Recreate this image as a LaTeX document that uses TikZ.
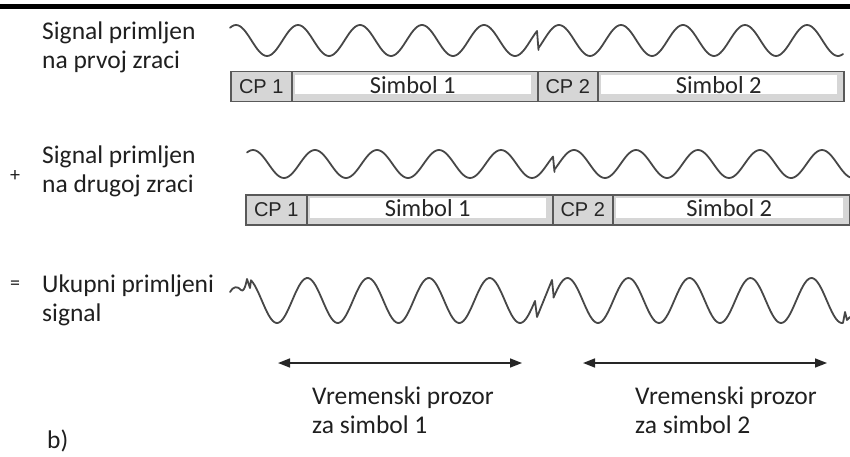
\documentclass[tikz,border=0pt]{standalone}
\usepackage{fontspec}
\setmainfont{Carlito}
\newfontfamily\arialf{Liberation Sans}
\usetikzlibrary{arrows.meta}
\tikzset{
  lbl/.style={anchor=west, align=left, font=\fontsize{25.5}{29}\selectfont, text=black!88, inner sep=0pt},
  sign/.style={font=\fontsize{20}{20}\selectfont, text=black!88, inner sep=0pt},
  wave/.style={draw=black!72, line width=1.8pt, line join=round, line cap=round},
  cpbox/.style={draw=black!65, line width=1.5pt, fill=black!16, anchor=north west,
     minimum height=30pt, inner sep=0pt, font=\arialf\fontsize{20}{20}\selectfont, text=black!85},
  symbox/.style={draw=black!65, line width=1.5pt, fill=black!16, anchor=north west,
     minimum height=30pt, inner sep=0pt},
  symtxt/.style={font=\fontsize{24.5}{24.5}\selectfont, text=black!85, inner sep=0pt},
  arr/.style={line width=1.6pt, draw=black!85, {Triangle[length=12pt,width=9pt]}-{Triangle[length=12pt,width=9pt]}}
}
\begin{document}
\begin{tikzpicture}[x=1pt,y=-1pt]
\useasboundingbox (0,0) rectangle (850,457);
\fill[black] (0,4.5) rectangle (850,9.5);

% ---------- row 1 ----------
\node[lbl] (t1) at (42,47) {Signal primljen\\na prvoj zraci};
\draw[wave] plot[domain=230:537, samples=160] (\x,{40.5+15.5*cos((\x-515)/62*360)})
   -- (538.5,50)
   -- plot[domain=538.5:843, samples=160] (\x,{40.5+15.5*cos((\x-590)/62*360)});
\node[cpbox, minimum width=61pt] (cp1a) at (230,71) {CP 1};
\node[symbox, minimum width=246pt] (s1a) at (291,71) {};
\node[cpbox, minimum width=60pt] (cp2a) at (537,71) {CP 2};
\node[symbox, minimum width=246pt] (s2a) at (597,71) {};
\fill[white] ([xshift=4pt,yshift=-4pt]s1a.north west) rectangle ([xshift=-8pt,yshift=8pt]s1a.south east);
\fill[white] ([xshift=4pt,yshift=-4pt]s2a.north west) rectangle ([xshift=-8pt,yshift=8pt]s2a.south east);
\node[symtxt] (l1a) at ([xshift=-2pt,yshift=2pt]s1a.center) {Simbol 1};
\node[symtxt] (l2a) at ([xshift=-2pt,yshift=2pt]s2a.center) {Simbol 2};

% ---------- row 2 ----------
\node[sign] (plus) at (15,176) {+};
\node[lbl] (t2) at (42,171) {Signal primljen\\na drugoj zraci};
\draw[wave] plot[domain=247:553, samples=160] (\x,{164+14*cos((\x-532)/62*360)})
   -- (554.5,172)
   -- plot[domain=554.5:850, samples=160] (\x,{164+14*cos((\x-605)/62*360)});
\node[cpbox, minimum width=61pt] (cp1b) at (245,194) {CP 1};
\node[symbox, minimum width=246pt] (s1b) at (306,194) {};
\node[cpbox, minimum width=60pt] (cp2b) at (552,194) {CP 2};
\node[symbox, minimum width=237pt] (s2b) at (612,194) {};
\fill[white] ([xshift=4pt,yshift=-4pt]s1b.north west) rectangle ([xshift=-8pt,yshift=8pt]s1b.south east);
\fill[white] ([xshift=4pt,yshift=-4pt]s2b.north west) rectangle ([xshift=-8pt,yshift=8pt]s2b.south east);
\node[symtxt] (l1b) at ([xshift=-2pt,yshift=2pt]s1b.center) {Simbol 1};
\node[symtxt] (l2b) at ([xshift=-2pt,yshift=2pt]s2b.center) {Simbol 2};

% ---------- row 3 ----------
\node[sign] (eq) at (15,285) {=};
\node[lbl] (t3) at (42,300) {Ukupni primljeni\\signal};
\draw[wave] (230,292) .. controls (233,286) and (238,286) .. (241,290)
   .. controls (243,292) and (245,289) .. (247,279) -- (250,288)
   -- plot[domain=251:535, samples=160] (\x,{300.5+22.5*cos((\x-520)/60.75*360)})
   -- (537,317) -- (552,280) -- (553.5,295)
   -- plot[domain=553.5:843, samples=160] (\x,{300.5+22.5*cos((\x-598)/61*360)})
   -- (845,312) -- (847,320) -- (850,317);

% ---------- arrows ----------
\coordinate (a1s) at (278,363);
\coordinate (a1e) at (522,363);
\coordinate (a2s) at (583,363);
\coordinate (a2e) at (827,363);
\draw[arr] (a1s) -- (a1e);
\draw[arr] (a2s) -- (a2e);
\node[lbl] (w1) at (312,410) {Vremenski prozor\\za simbol 1};
\node[lbl] (w2) at (635,410) {Vremenski prozor\\za simbol 2};
\node[lbl] (b) at (47,441) {b)};
\end{tikzpicture}
\end{document}
